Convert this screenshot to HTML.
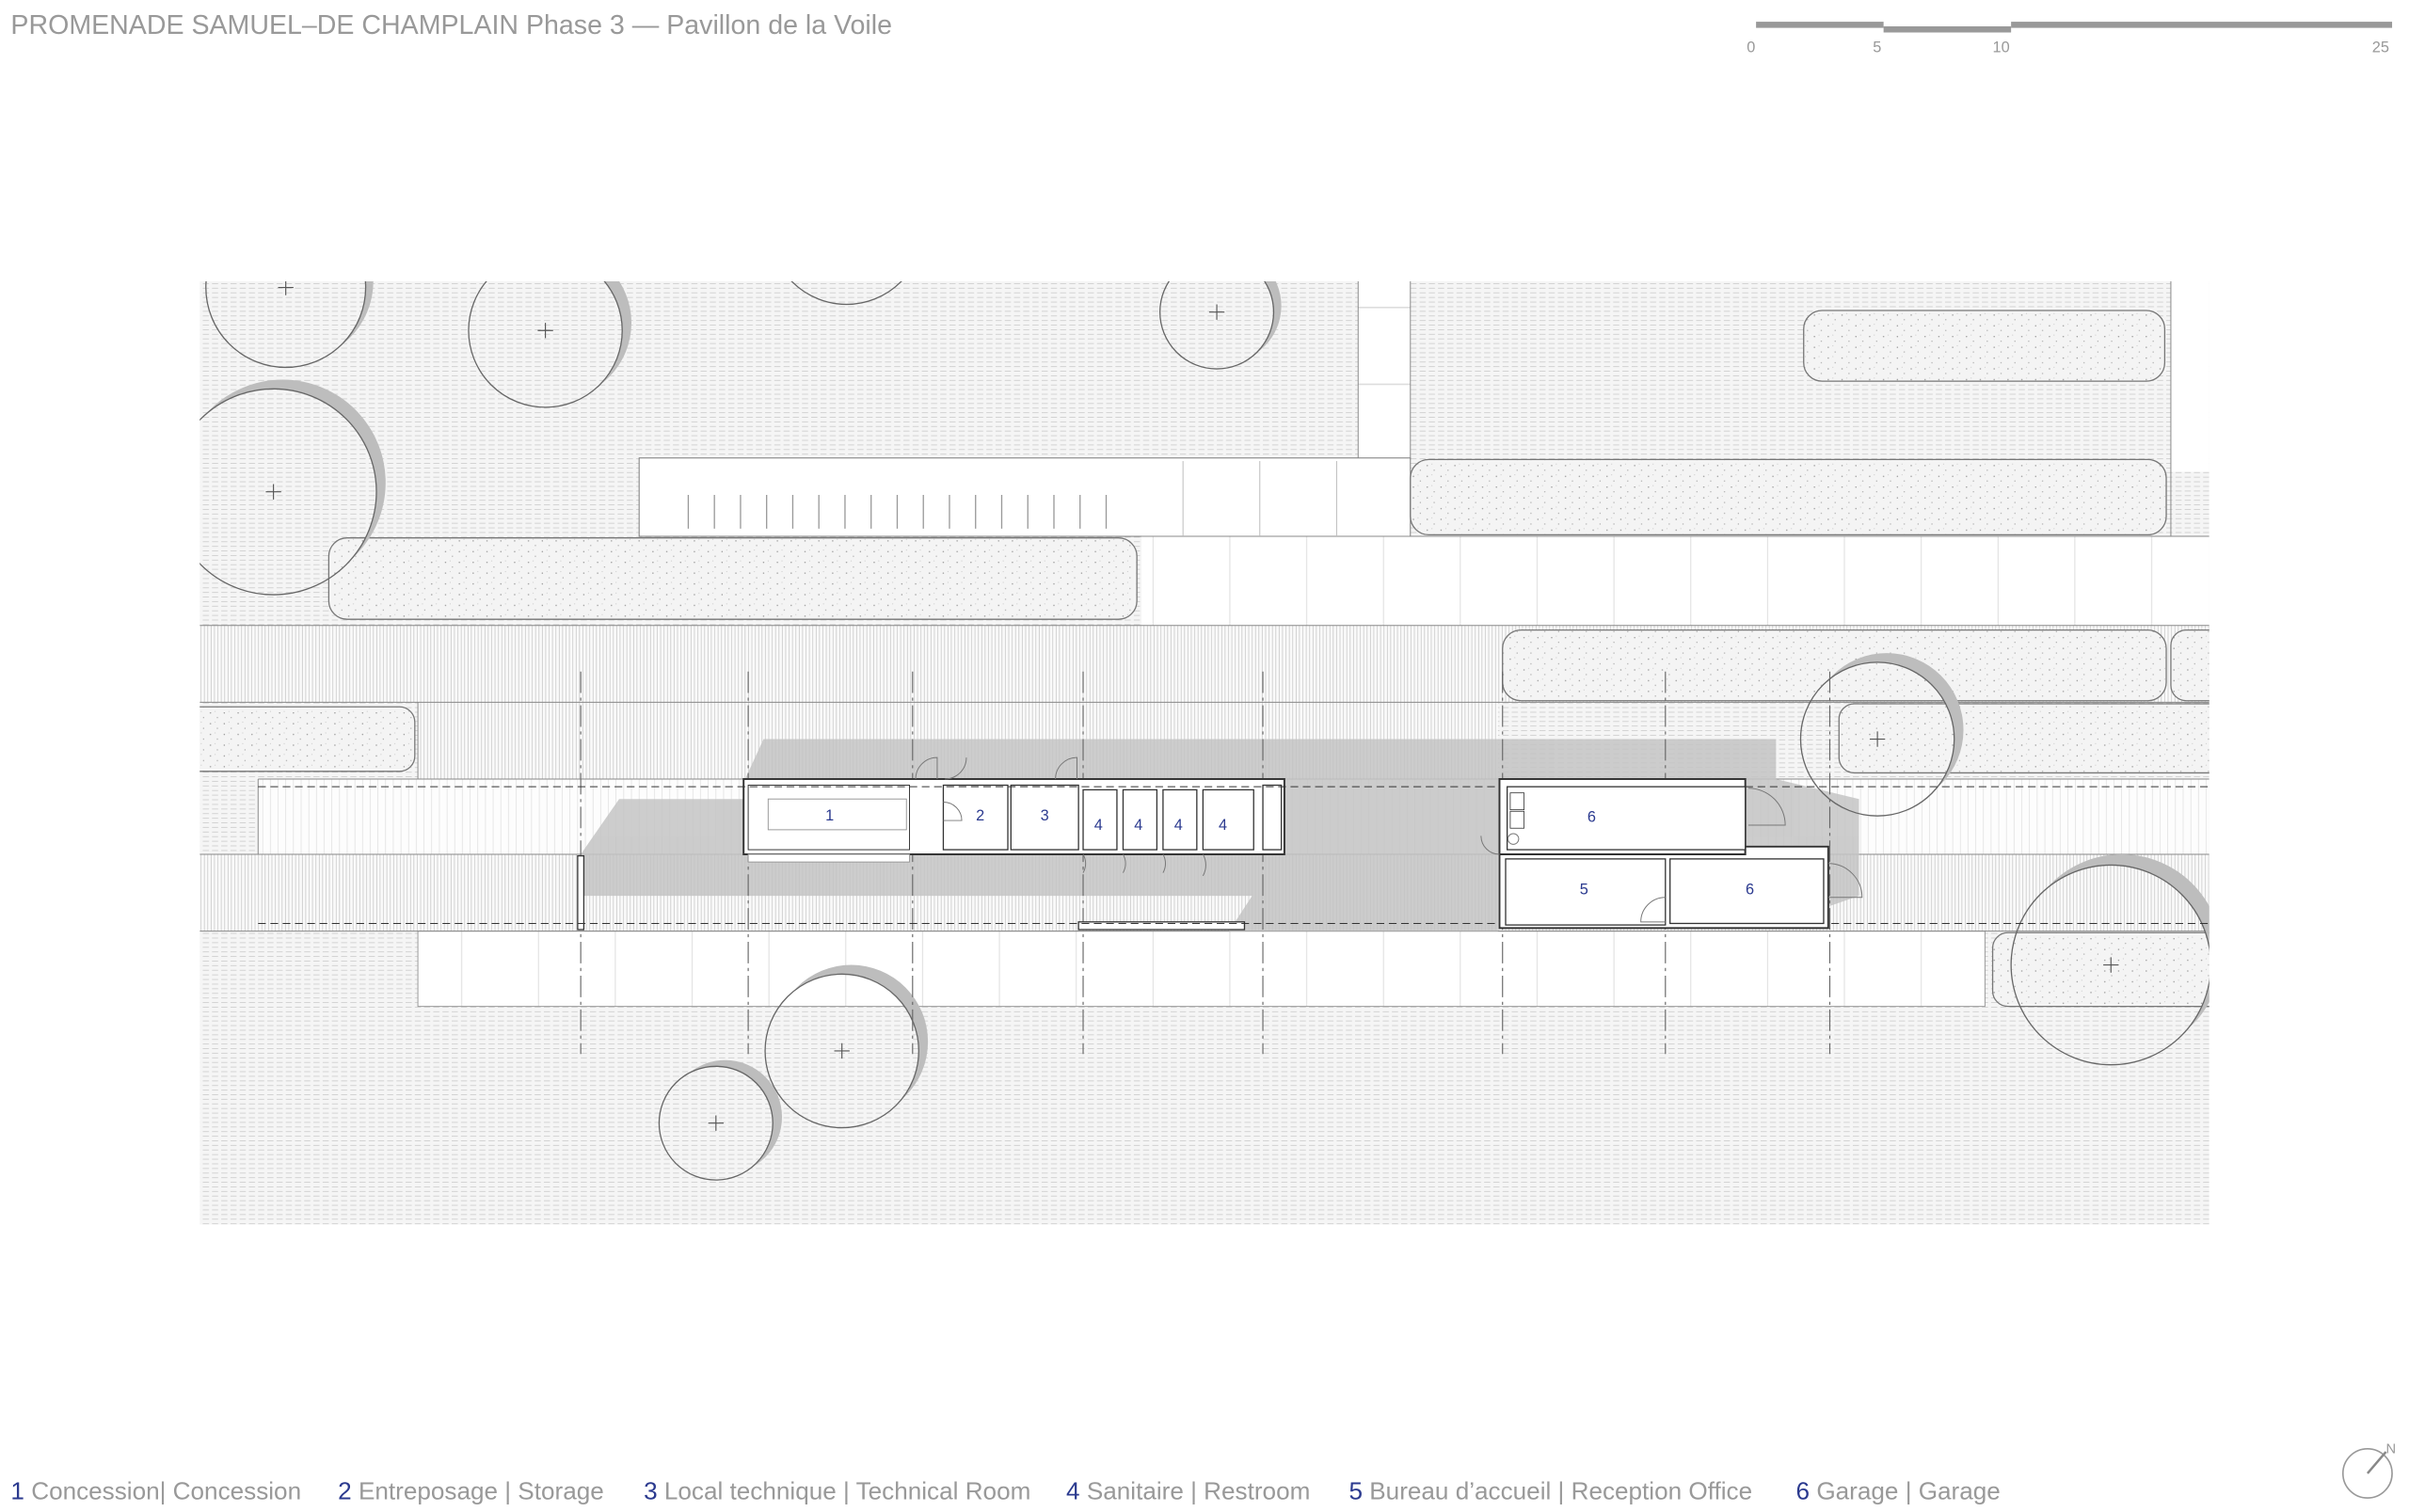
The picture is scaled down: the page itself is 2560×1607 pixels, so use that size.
<!DOCTYPE html>
<html><head><meta charset="utf-8"><style>
html,body{margin:0;padding:0;background:#fff;}
svg{display:block;}
</style></head><body>
<svg width="2560" height="1607" viewBox="0 0 1568 984" xmlns="http://www.w3.org/2000/svg" font-family="'Liberation Sans', sans-serif">
<defs>
<pattern id="hp" width="6" height="3" patternUnits="userSpaceOnUse"><rect width="6" height="3" fill="#f5f5f5"/><line x1="0" y1="1.5" x2="4" y2="1.5" stroke="#d2d2d2" stroke-width="0.6"/></pattern>
<pattern id="vp" width="2.2" height="10" patternUnits="userSpaceOnUse"><rect width="2.2" height="10" fill="#fafafa"/><line x1="1" y1="0" x2="1" y2="10" stroke="#c4c4c4" stroke-width="0.45"/></pattern>
<pattern id="vp2" width="5" height="10" patternUnits="userSpaceOnUse"><rect width="5" height="10" fill="#fdfdfd"/><line x1="1" y1="0" x2="1" y2="10" stroke="#dcdcdc" stroke-width="0.4"/></pattern>
<pattern id="st" width="9" height="7" patternUnits="userSpaceOnUse"><rect width="9" height="7" fill="#f4f4f4"/><circle cx="2" cy="2" r="0.45" fill="#999"/><circle cx="6.5" cy="5" r="0.4" fill="#aaa"/><circle cx="5" cy="1" r="0.3" fill="#bbb"/></pattern>
<pattern id="pv" width="50" height="58" patternUnits="userSpaceOnUse"><rect width="50" height="58" fill="#fff"/><line x1="0.5" y1="0" x2="0.5" y2="58" stroke="#ddd" stroke-width="0.6"/></pattern>
<clipPath id="site"><rect x="130" y="183" width="1308" height="614"/></clipPath>
<mask id="tm">
<rect x="0" y="0" width="1568" height="984" fill="#fff"/>
<g fill="#000">
<circle cx="186" cy="187" r="52"/><circle cx="355" cy="215" r="50"/><circle cx="178" cy="320" r="67"/><circle cx="551" cy="148" r="50"/><circle cx="792" cy="203" r="37"/><circle cx="1222" cy="481" r="50"/><circle cx="1374" cy="628" r="65"/><circle cx="548" cy="684" r="50"/><circle cx="466" cy="731" r="37"/>
</g>
</mask>
</defs>

<g clip-path="url(#site)">
<rect x="130" y="183" width="1308" height="614" fill="url(#hp)"/>
<rect x="884" y="183" width="34" height="116" fill="#fff"/>
<line x1="884" y1="200" x2="918" y2="200" stroke="#ddd"/><line x1="884" y1="250" x2="918" y2="250" stroke="#ddd"/>
<rect x="1413" y="183" width="25" height="124" fill="#fff"/>
<rect x="416" y="298" width="502" height="51" fill="#fff" stroke="#777" stroke-width="0.6"/>
<rect x="743" y="349" width="695" height="58" fill="url(#pv)"/>
<line x1="743" y1="349" x2="1438" y2="349" stroke="#888" stroke-width="0.6"/>
<g stroke="#999" stroke-width="0.8" fill="none">
<path d="M448 322v22M465 322v22M482 322v22M499 322v22M516 322v22M533 322v22M550 322v22M567 322v22M584 322v22M601 322v22M618 322v22M635 322v22M652 322v22M669 322v22M686 322v22M703 322v22M720 322v22"/>
</g>
<g stroke="#bbb" stroke-width="0.6"><line x1="770" y1="300" x2="770" y2="349"/><line x1="820" y1="300" x2="820" y2="349"/><line x1="870" y1="300" x2="870" y2="349"/></g>

<rect x="130" y="407" width="1308" height="50" fill="url(#vp)"/>
<rect x="272" y="457" width="703" height="50" fill="url(#vp)"/>
<rect x="168" y="507" width="1270" height="49" fill="url(#vp2)"/>
<rect x="130" y="556" width="1308" height="50" fill="url(#vp)"/>
<rect x="272" y="606" width="1020" height="49" fill="url(#pv)" stroke="#999" stroke-width="0.6"/>
<g stroke="#888" stroke-width="0.6"><line x1="130" y1="407" x2="1438" y2="407"/><line x1="130" y1="457" x2="1438" y2="457"/><line x1="168" y1="507" x2="1438" y2="507"/><line x1="130" y1="556" x2="1438" y2="556"/><line x1="130" y1="606" x2="1438" y2="606"/><line x1="168" y1="507" x2="168" y2="556"/><line x1="272" y1="457" x2="272" y2="507"/></g>

<g fill="url(#st)" stroke="#777" stroke-width="0.8">
<rect x="1174" y="202" width="235" height="46" rx="12"/>
<rect x="918" y="299" width="492" height="49" rx="12"/>
<rect x="214" y="350" width="526" height="53" rx="12"/>
<rect x="978" y="410" width="432" height="46" rx="12"/>
<rect x="1413" y="410" width="40" height="46" rx="10"/>
<rect x="110" y="460" width="160" height="42" rx="10"/>
<rect x="1197" y="458" width="260" height="45" rx="10"/>
<rect x="1297" y="607" width="160" height="48" rx="10"/>
</g>

<g fill="#c4c4c4" opacity="0.85">
<polygon points="485,507 497,481 1156,481 1156,507"/>
<polygon points="378,556 403,520 485,520 485,556"/>
<rect x="836" y="507" width="140" height="49"/>
<polygon points="1136,507 1156,507 1210,520 1210,556 1136,556"/>
<polygon points="378,556 975,556 975,606 800,606 815,583 378,583"/>
<polygon points="1190,556 1210,556 1210,583 1190,590"/>
</g>

<g fill="#bdbdbd" mask="url(#tm)">
<circle cx="191" cy="183" r="52"/><circle cx="361" cy="210" r="50"/><circle cx="184" cy="314" r="67"/><circle cx="556" cy="143" r="50"/><circle cx="797" cy="199" r="37"/><circle cx="1228" cy="475" r="50"/><circle cx="1381" cy="621" r="65"/><circle cx="554" cy="678" r="50"/><circle cx="472" cy="727" r="37"/>
</g>
<g stroke="#666" stroke-width="0.8" fill="none">
<circle cx="186" cy="187" r="52"/><circle cx="355" cy="215" r="50"/><circle cx="178" cy="320" r="67"/><circle cx="551" cy="148" r="50"/><circle cx="792" cy="203" r="37"/><circle cx="1222" cy="481" r="50"/><circle cx="1374" cy="628" r="65"/><circle cx="548" cy="684" r="50"/><circle cx="466" cy="731" r="37"/>
</g>
<g stroke="#555" stroke-width="0.7" fill="none">
<path d="M186 183v9M181 187h10M355 210v10M350 215h10M178 315v10M173 320h10M792 198v10M787 203h10M1222 476v10M1217 481h10M1374 623v10M1369 628h10M548 679v10M543 684h10M466 726v10M461 731h10"/>
</g>
</g>

<line x1="884" y1="183" x2="884" y2="298" stroke="#888" stroke-width="0.6"/>
<line x1="918" y1="183" x2="918" y2="299" stroke="#888" stroke-width="0.6"/>
<line x1="1413" y1="183" x2="1413" y2="349" stroke="#888" stroke-width="0.6"/>

<text x="7" y="22" font-size="17.5" fill="#999">PROMENADE SAMUEL–DE CHAMPLAIN Phase 3 — Pavillon de la Voile</text>
<g fill="#999">
<rect x="1143" y="14" width="83" height="4"/><rect x="1226" y="17" width="83" height="4"/><rect x="1309" y="14" width="248" height="4"/>
</g>
<g font-size="10" fill="#999"><text x="1137" y="34">0</text><text x="1219" y="34">5</text><text x="1297" y="34">10</text><text x="1544" y="34">25</text></g>

<g stroke="#666" stroke-width="0.7" stroke-dasharray="14,3,2,3">
<line x1="378" y1="437" x2="378" y2="686"/><line x1="487" y1="437" x2="487" y2="686"/><line x1="594" y1="437" x2="594" y2="686"/><line x1="705" y1="437" x2="705" y2="686"/><line x1="822" y1="437" x2="822" y2="686"/><line x1="978" y1="437" x2="978" y2="686"/><line x1="1084" y1="437" x2="1084" y2="686"/><line x1="1191" y1="437" x2="1191" y2="686"/>
</g>

<g stroke="#333" fill="#fff">
<rect x="484" y="507" width="352" height="49" stroke-width="1.2"/>
<rect x="487" y="511" width="105" height="42" stroke-width="0.6"/>
<rect x="500" y="520" width="90" height="20" stroke="#999" stroke-width="0.6"/>
<rect x="487" y="556" width="105" height="5" stroke="#999" stroke-width="0.6"/>
<rect x="614" y="511" width="42" height="42" stroke-width="0.8"/>
<rect x="658" y="511" width="44" height="42" stroke-width="0.8"/>
<rect x="705" y="514" width="22" height="39" stroke-width="0.8"/>
<rect x="731" y="514" width="22" height="39" stroke-width="0.8"/>
<rect x="757" y="514" width="22" height="39" stroke-width="0.8"/>
<rect x="783" y="514" width="33" height="39" stroke-width="0.8"/>
<rect x="822" y="511" width="12" height="42" stroke-width="0.8"/>
<rect x="376" y="557" width="4" height="48" stroke-width="0.8"/>
<rect x="702" y="600" width="108" height="5" stroke-width="0.8"/>
</g>
<g stroke="#777" fill="none" stroke-width="0.6">
<path d="M596 507 a14 14 0 0 1 14 -14v14M615 507 a14 14 0 0 0 14 -14M687 507 a14 14 0 0 1 14 -14v14M614 522a12 12 0 0 1 12 12h-12"/>
<path d="M705 556a12 12 0 0 1 -0 12M731 556a12 12 0 0 1 0 12M757 556a12 12 0 0 1 0 12M783 556a14 14 0 0 1 0 14"/>
</g>
<g stroke="#333" stroke-width="0.6" stroke-dasharray="5,3" fill="none">
<line x1="168" y1="512" x2="1438" y2="512"/><line x1="168" y1="601" x2="1438" y2="601"/>
</g>

<g stroke="#333" fill="#fff">
<rect x="976" y="507" width="160" height="49" stroke-width="1.2"/>
<polygon points="976,556 1136,556 1136,551 1190,551 1190,604 976,604" stroke-width="1.2"/>
<rect x="981" y="512" width="155" height="41" stroke-width="0.8"/>
<rect x="980" y="559" width="104" height="43" stroke-width="0.8"/>
<rect x="1087" y="559" width="100" height="42" stroke-width="0.8"/>
<rect x="983" y="516" width="9" height="11" stroke-width="0.5"/><rect x="983" y="528" width="9" height="11" stroke-width="0.5"/>
</g>
<g stroke="#777" fill="none" stroke-width="0.6">
<path d="M1138 513a24 24 0 0 1 24 24h-24M1190 562a22 22 0 0 1 22 22h-22M1084 584a16 16 0 0 0 -16 16h16M976 556a12 12 0 0 1 -12 -12"/>
<circle cx="985" cy="546" r="3.5"/>
</g>

<g font-size="10" fill="#2b3a8f" text-anchor="middle">
<text x="540" y="534">1</text><text x="638" y="534">2</text><text x="680" y="534">3</text>
<text x="715" y="540">4</text><text x="741" y="540">4</text><text x="767" y="540">4</text><text x="796" y="540">4</text>
<text x="1036" y="535">6</text><text x="1031" y="582">5</text><text x="1139" y="582">6</text>
</g>

<g font-size="16" fill="#999">
<text x="7" y="976"><tspan fill="#2b3a8f">1</tspan> Concession| Concession</text>
<text x="220" y="976"><tspan fill="#2b3a8f">2</tspan> Entreposage | Storage</text>
<text x="419" y="976"><tspan fill="#2b3a8f">3</tspan> Local technique | Technical Room</text>
<text x="694" y="976"><tspan fill="#2b3a8f">4</tspan> Sanitaire | Restroom</text>
<text x="878" y="976"><tspan fill="#2b3a8f">5</tspan> Bureau d’accueil | Reception Office</text>
<text x="1169" y="976"><tspan fill="#2b3a8f">6</tspan> Garage | Garage</text>
</g>
<circle cx="1541" cy="959" r="16" fill="none" stroke="#999" stroke-width="1"/>
<line x1="1541" y1="959" x2="1553" y2="945" stroke="#888" stroke-width="1.5"/>
<text x="1553" y="946" font-size="9" fill="#999">N</text>
</svg>
</body></html>
